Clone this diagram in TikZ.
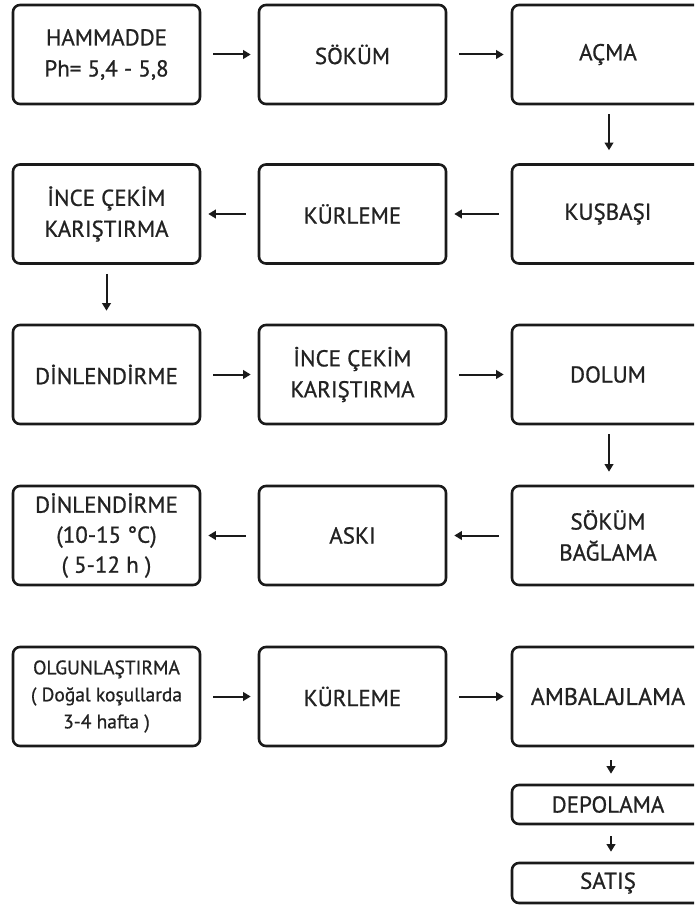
\documentclass[tikz,border=0pt]{standalone}
\usepackage{fontspec}
\setmainfont{PT Sans}[FakeBold=0.8]
\usetikzlibrary{arrows.meta}
\definecolor{boxc}{HTML}{1A1A1A}
\definecolor{txtc}{HTML}{222222}
\begin{document}
\begin{tikzpicture}[x=1pt,y=-1pt,
  box/.style={draw=boxc, line width=2.6pt, rounded corners=7pt, text=txtc, align=center,
    font=\fontsize{23}{31}\selectfont, inner sep=0pt, minimum height=99pt},
  c12/.style={box, minimum width=187pt},
  c3/.style={box, minimum width=192pt},
  three/.style={font=\fontsize{23}{30}\selectfont},
  small/.style={font=\fontsize{19.5}{27}\selectfont},
  big/.style={font=\fontsize{24}{31}\selectfont},
  arr/.style={draw=boxc, line width=2pt, -{Triangle[length=7.5pt,width=8.5pt]}},
  harr/.style={arr, shorten <=12pt, shorten >=7pt},
  varr/.style={arr, shorten <=9pt, shorten >=13pt},
]
\useasboundingbox (0,0) rectangle (694,907);
\clip (0,0) rectangle (694,907);
% row 1
\node[c12] (a1) at (106.5,54.5) {HAMMADDE\\Ph= 5,4 - 5,8};
\node[c12] (a2) at (352.5,54.5) {SÖKÜM};
\node[c3]  (a3) at (608,54.5) {AÇMA};
% row 2
\node[c12] (b1) at (106.5,214) {İNCE ÇEKİM\\KARIŞTIRMA};
\node[c12] (b2) at (352.5,214) {KÜRLEME};
\node[c3]  (b3) at (608,214) {KUŞBAŞI};
% row 3
\node[c12] (c1) at (106.5,374.5) {DİNLENDİRME};
\node[c12] (c2) at (352.5,374.5) {İNCE ÇEKİM\\KARIŞTIRMA};
\node[c3]  (c3) at (608,374.5) {DOLUM};
% row 4
\node[c12, three] (d1) at (106.5,535.5) {DİNLENDİRME\\(10-15 °C)\\( 5-12 h )};
\node[c12] (d2) at (352.5,535.5) {ASKI};
\node[c3]  (d3) at (608,535.5) {SÖKÜM\\BAĞLAMA};
% row 5
\node[c12, small] (e1) at (106.5,696.5) {OLGUNLAŞTIRMA\\( Doğal koşullarda\\3-4 hafta )};
\node[c12] (e2) at (352.5,696.5) {KÜRLEME};
\node[c3, big]  (e3) at (608,696.5) {AMBALAJLAMA};
% tail
\node[c3, minimum height=39pt] (f3) at (608,804.5) {DEPOLAMA};
\node[c3, minimum height=40pt] (g3) at (608,883) {SATIŞ};
% arrows
\draw[harr] (a1) -- (a2);
\draw[harr] (a2) -- (a3);
\draw[varr] (a3.south -| 609,0) -- (b3.north -| 609,0);
\draw[harr] (b3) -- (b2);
\draw[harr] (b2) -- (b1);
\draw[varr] (b1) -- (c1);
\draw[harr] (c1) -- (c2);
\draw[harr] (c2) -- (c3);
\draw[varr] (c3.south -| 609,0) -- (d3.north -| 609,0);
\draw[harr] (d3) -- (d2);
\draw[harr] (d2) -- (d1);
\draw[harr] (e1) -- (e2);
\draw[harr] (e2) -- (e3);
\draw[arr, shorten <=13pt, shorten >=10pt] (e3.south -| 611,0) -- (f3.north -| 611,0);
\draw[arr, shorten <=11pt, shorten >=10pt] (f3.south -| 611,0) -- (g3.north -| 611,0);
\end{tikzpicture}
\end{document}
